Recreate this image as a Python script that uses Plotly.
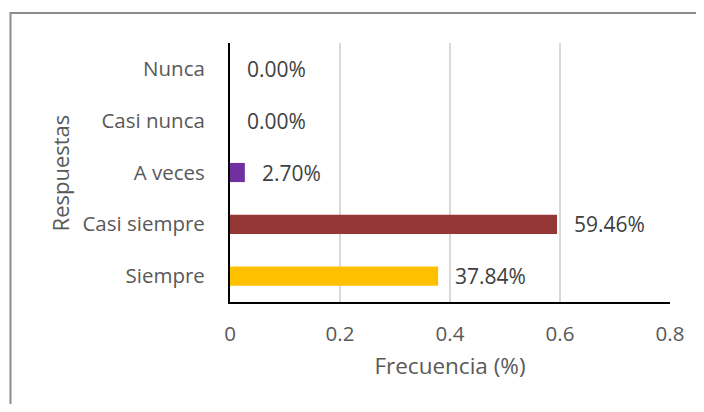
import plotly.graph_objects as go

categories = ["Siempre", "Casi siempre", "A veces", "Casi nunca", "Nunca"]
values = [0.3784, 0.5946, 0.0270, 0.0, 0.0]
labels = ["37.84%", "59.46%", "2.70%", "0.00%", "0.00%"]
colors = ["#FFC000", "#953735", "#7030A0", "#7030A0", "#7030A0"]
x_ticks = [0, 0.2, 0.4, 0.6, 0.8]
x_ticklabels = ["0", "0.2", "0.4", "0.6", "0.8"]

FONT = "Open Sans"
W, H = 688, 396
L, R, T, B = 222, 21, 35, 102
pw, ph = W - L - R, H - T - B

fig = go.Figure()
fig.add_trace(go.Bar(
    x=values, y=categories, orientation="h",
    marker=dict(color=colors, line=dict(width=0)),
    width=0.37, hoverinfo="skip",
))

for v, c, t in zip(values, categories, labels):
    fig.add_annotation(x=v, y=c, text=t, xanchor="left", yanchor="middle",
                       xshift=15, showarrow=False,
                       font=dict(family=FONT, size=21, color="#404040"))

def px_x(p):
    return (p - L) / pw

def px_y(p):
    return (H - B - p) / ph

fig.add_shape(type="rect", xref="paper", yref="paper",
              x0=px_x(0), x1=px_x(720), y0=px_y(430), y1=px_y(5),
              line=dict(color="#8c8c8c", width=2), fillcolor="rgba(0,0,0,0)")

fig.add_annotation(xref="paper", yref="paper", x=px_x(50), y=0.5,
                   text="Respuestas", textangle=-90, showarrow=False,
                   xanchor="center", yanchor="middle",
                   font=dict(family=FONT, size=22, color="#595959"))

fig.update_layout(
    width=W, height=H,
    margin=dict(l=L, r=R, t=T, b=B),
    paper_bgcolor="white", plot_bgcolor="white",
    showlegend=False,
    font=dict(family=FONT, size=20, color="#595959"),
    xaxis=dict(range=[0, 0.8], tickvals=x_ticks, ticktext=x_ticklabels,
               showgrid=True, gridcolor="#d9d9d9", gridwidth=1.5,
               zeroline=False, showline=True, linecolor="black", linewidth=2,
               ticks="", ticklabelstandoff=12,
               tickfont=dict(family=FONT, size=20.5, color="#595959"),
               title=dict(text="Frecuencia (%)", standoff=13,
                          font=dict(family=FONT, size=22.5, color="#595959"))),
    yaxis=dict(categoryorder="array", categoryarray=categories,
               showgrid=False, zeroline=False, showline=True,
               linecolor="black", linewidth=2, ticks="",
               ticklabelstandoff=19,
               tickfont=dict(family=FONT, size=20.5, color="#595959")),
)

fig.write_html("out.html")
